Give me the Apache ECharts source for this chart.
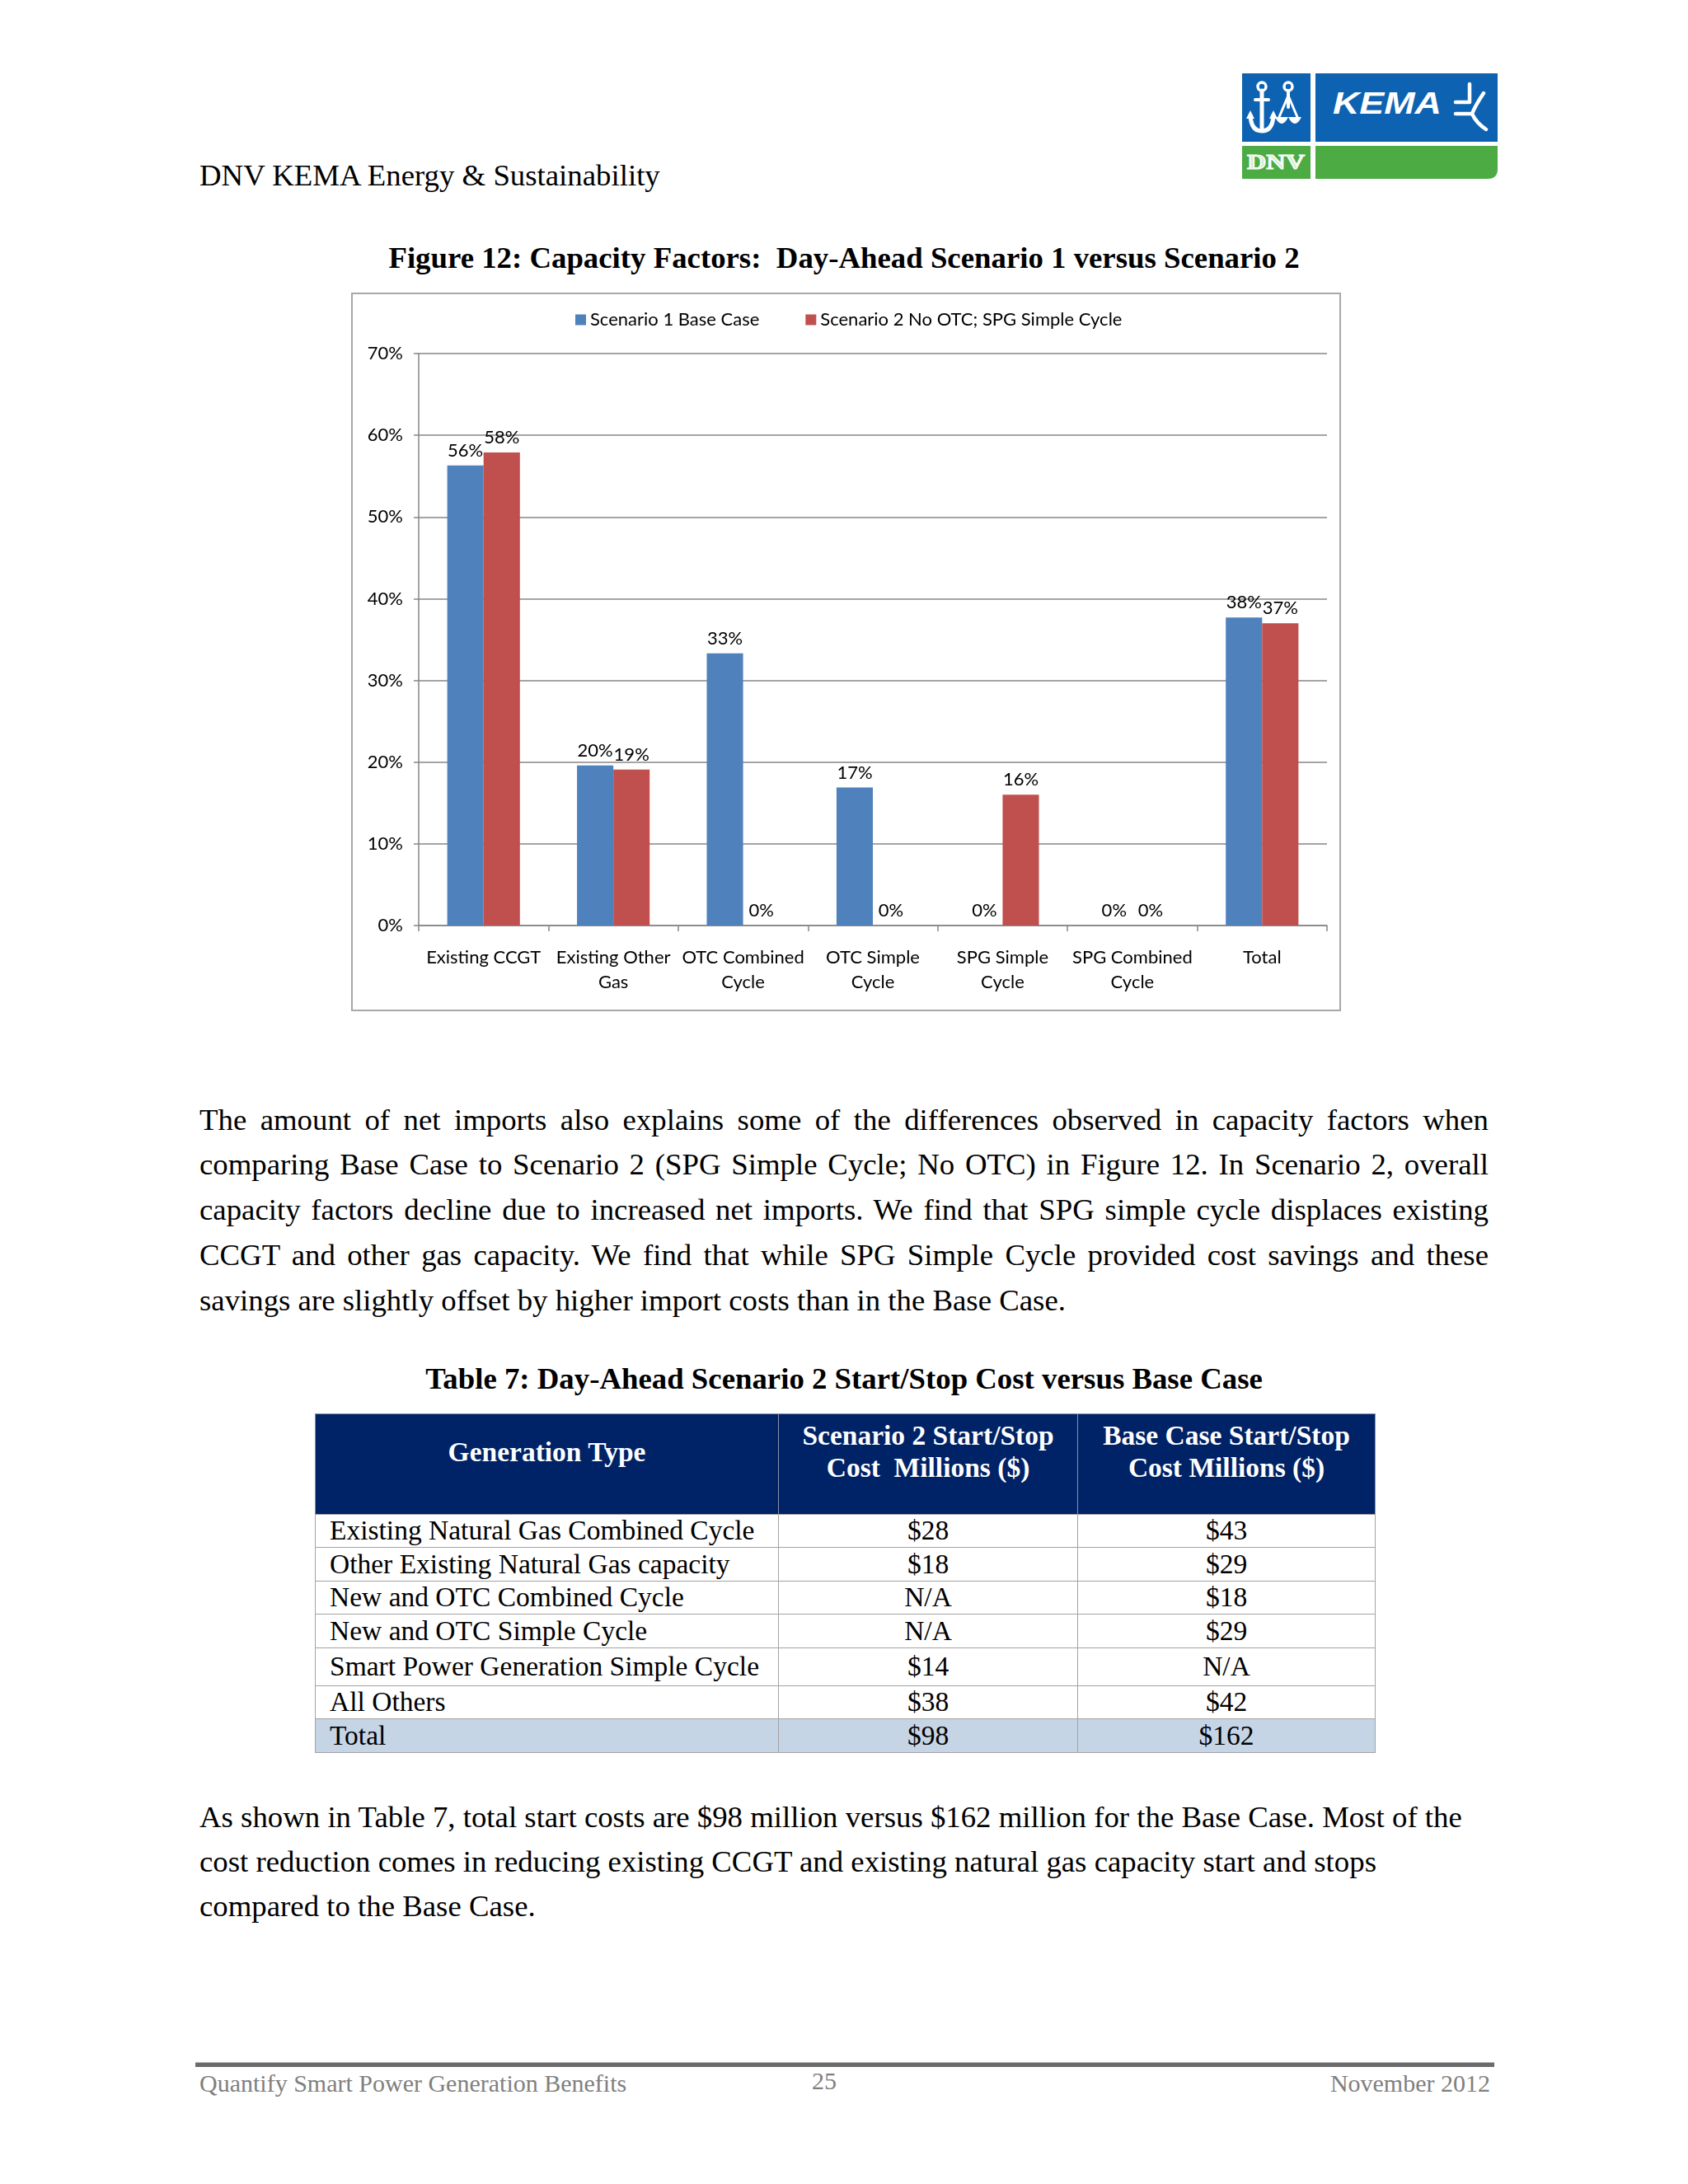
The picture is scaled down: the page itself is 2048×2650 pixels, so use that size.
<!DOCTYPE html>
<html>
<head>
<meta charset="utf-8">
<script src="https://cdn.jsdelivr.net/npm/echarts@6/dist/echarts.min.js"></script>
<style>
  html, body { margin:0; padding:0; background:#fff; }
  #page { position:relative; width:2048px; height:2650px; background:#fff; overflow:hidden; font-family:"Liberation Serif","Times New Roman",serif; color:#000; }
  .abs { position:absolute; white-space:pre; }
  .body11 { font-size:36.8px; line-height:44px; }
  .just { text-align:justify; text-align-last:justify; white-space:normal; }
  .cell { position:absolute; box-sizing:border-box; border:1px solid #a3a3a3; font-size:33.5px; line-height:38px; white-space:pre; }
</style>
</head>
<body>
<div id="page">
  <!-- logo -->
  <svg class="abs" style="left:1500px;top:80px" width="330" height="150" viewBox="0 0 330 150">
    <rect x="7" y="9" width="83" height="83" fill="#0d62b1"/>
    <rect x="96" y="9" width="221" height="83" fill="#0d62b1"/>
    <rect x="7" y="97" width="83" height="40" fill="#4cab43"/>
    <path d="M96 97 H317 V125 Q317 137 305 137 H96 Z" fill="#4cab43"/>
    <g stroke="#fff" fill="none" stroke-linecap="round" stroke-linejoin="round">
      <circle cx="31" cy="25" r="5" stroke-width="3.5"/>
      <line x1="31" y1="30" x2="31" y2="78" stroke-width="5"/>
      <line x1="23" y1="41" x2="39" y2="41" stroke-width="4"/>
      <path d="M17 60 Q18 79 31 79 Q44 79 45 60" stroke-width="5"/>
      <circle cx="63" cy="25" r="5" stroke-width="3.5"/>
      <line x1="63" y1="30" x2="63" y2="50" stroke-width="4"/>
      <path d="M63 36 L52 62 M63 36 L74 62" stroke-width="3"/>
      <path d="M283 22 V44 M266 44 H283 M266 58 H286 M300 33 Q290 48 286 58 Q291 69 303 77" stroke-width="4.5"/>
    </g>
    <g fill="#fff">
      <polygon points="12,64 17,54 22,64"/>
      <polygon points="40,64 45,54 50,64"/>
      <path d="M47 62 Q55 78 63 62 Z"/>
      <path d="M63 62 Q71 78 79 62 Z"/>
    </g>
    <text x="117" y="58" font-family="Liberation Sans" font-weight="bold" font-style="italic" font-size="36" fill="#fff" textLength="132" lengthAdjust="spacingAndGlyphs">KEMA</text>
    <text x="13" y="125" font-family="Liberation Serif" font-weight="bold" font-size="25" fill="#d8efd4" stroke="#fff" stroke-width="1.2" textLength="70" lengthAdjust="spacingAndGlyphs">DNV</text>
  </svg>

  <div class="abs body11" style="left:242px;top:191px;">DNV KEMA Energy &amp; Sustainability</div>
  <div class="abs body11" style="left:0;width:2048px;text-align:center;top:291px;font-weight:bold;">Figure 12: Capacity Factors:  Day-Ahead Scenario 1 versus Scenario 2</div>

  <div id="chart" class="abs" style="left:426px;top:355px;width:1201px;height:872px;"></div>
  <div class="abs" style="left:426px;top:355px;width:1201px;height:872px;box-sizing:border-box;border:2px solid #a8a8a8;pointer-events:none;"></div>

  <div id="para1"></div>

  <div class="abs body11" style="left:0;width:2048px;text-align:center;top:1651px;font-weight:bold;">Table 7: Day-Ahead Scenario 2 Start/Stop Cost versus Base Case</div>
  <div id="table"></div>

  <div id="para2"></div>

  <div class="abs" style="left:237px;top:2502px;width:1576px;height:6px;background:#6b6b6b;border-top:1px solid #bdbdbd;box-sizing:border-box;"></div>
  <div class="abs" style="left:242px;top:2510px;font-size:30px;line-height:36px;color:#7f7f7f;">Quantify Smart Power Generation Benefits</div>
  <div class="abs" style="left:950px;width:100px;text-align:center;top:2507px;font-size:30px;line-height:36px;color:#7f7f7f;">25</div>
  <div class="abs" style="left:1500px;width:308px;text-align:right;top:2510px;font-size:30px;line-height:36px;color:#7f7f7f;">November 2012</div>
</div>

<script>
// ---- chart data ----
const categories = ['Existing CCGT', 'Existing Other\nGas', 'OTC Combined\nCycle', 'OTC Simple\nCycle', 'SPG Simple\nCycle', 'SPG Combined\nCycle', 'Total'];
const seriesNames = ['Scenario 1 Base Case', 'Scenario 2 No OTC; SPG Simple Cycle'];
const scenario1 = [0.563, 0.196, 0.333, 0.169, 0, 0, 0.377];
const scenario2 = [0.579, 0.191, 0, 0, 0.160, 0, 0.370];
const yMin = 0, yMax = 0.7, yStep = 0.1;

// ---- page text ----
const para1Lines = [
  'The amount of net imports also explains some of the differences observed in capacity factors when',
  'comparing Base Case to Scenario 2 (SPG Simple Cycle; No OTC) in Figure 12. In Scenario 2, overall',
  'capacity factors decline due to increased net imports. We find that SPG simple cycle displaces existing',
  'CCGT and other gas capacity. We find that while SPG Simple Cycle provided cost savings and these',
  'savings are slightly offset by higher import costs than in the Base Case.'
];
const para1Y = [1359, 1413, 1468, 1523, 1578];
const para2Lines = [
  'As shown in Table 7, total start costs are $98 million versus $162 million for the Base Case. Most of the',
  'cost reduction comes in reducing existing CCGT and existing natural gas capacity start and stops',
  'compared to the Base Case.'
];
const para2Y = [2205, 2259, 2313];

// ---- table data ----
const tableHeader = ['Generation Type', 'Scenario 2 Start/Stop\nCost  Millions ($)', 'Base Case Start/Stop\nCost Millions ($)'];
const tableTypes = ['Existing Natural Gas Combined Cycle', 'Other Existing Natural Gas capacity', 'New and OTC Combined Cycle', 'New and OTC Simple Cycle', 'Smart Power Generation Simple Cycle', 'All Others', 'Total'];
const tableScen2 = ['$28', '$18', 'N/A', 'N/A', '$14', '$38', '$98'];
const tableBase = ['$43', '$29', '$18', '$29', 'N/A', '$42', '$162'];

const page = document.getElementById('page');
function addLines(lines, ys, justifyAllButLast) {
  lines.forEach((t, i) => {
    const d = document.createElement('div');
    d.className = 'abs body11';
    d.style.left = '242px';
    d.style.top = (ys[i] - 22) + 'px';
    if (justifyAllButLast && i < lines.length - 1) {
      d.classList.add('just');
      d.style.width = '1564px';
    }
    d.textContent = t;
    page.appendChild(d);
  });
}
addLines(para1Lines, para1Y, true);
addLines(para2Lines, para2Y, false);

// table
const colX = [382, 944, 1307, 1668];
const rowY = [1715, 1837, 1877, 1918, 1958, 1999, 2045, 2085, 2126];
const tbl = document.getElementById('table');
function cell(c, r, text, opts) {
  const d = document.createElement('div');
  d.className = 'cell';
  d.style.left = colX[c] + 'px';
  d.style.top = rowY[r] + 'px';
  d.style.width = (colX[c + 1] - colX[c] + 1) + 'px';
  d.style.height = (rowY[r + 1] - rowY[r] + 1) + 'px';
  Object.assign(d.style, opts || {});
  d.textContent = text;
  tbl.appendChild(d);
}
tableHeader.forEach((h, c) => {
  cell(c, 0, h, {
    background: '#002266', color: '#fff', fontWeight: 'bold', textAlign: 'center', lineHeight: '39px',
    paddingTop: (c === 0 ? 26 : 6) + 'px', borderColor: '#8a93a8'
  });
});
tableTypes.forEach((t, i) => {
  const r = i + 1;
  const h = rowY[r + 1] - rowY[r];
  const bg = (i === tableTypes.length - 1) ? '#c5d5e5' : '#fff';
  const base = { background: bg, lineHeight: (h - 2) + 'px' };
  cell(0, r, t, Object.assign({ paddingLeft: '17px' }, base));
  cell(1, r, tableScen2[i], Object.assign({ textAlign: 'center' }, base));
  cell(2, r, tableBase[i], Object.assign({ textAlign: 'center' }, base));
});

// ---- chart ----
const pct = v => Math.round(v * 100) + '%';
const chart = echarts.init(document.getElementById('chart'), null, { renderer: 'canvas' });
const labelFont = { fontFamily: 'Lato', fontSize: 22, color: '#000' };
chart.setOption({
  animation: false,
  backgroundColor: '#fff',
  legend: {
    left: 267, top: 17,
    itemWidth: 13, itemHeight: 13, itemGap: 56,
    icon: 'rect',
    textStyle: labelFont,
    data: seriesNames
  },
  grid: { left: 82, right: 17, top: 74, bottom: 104, containLabel: false },
  xAxis: {
    type: 'category',
    data: categories,
    axisLine: { lineStyle: { color: '#868686', width: 1.5 } },
    axisTick: { show: true, length: 7, alignWithLabel: false, lineStyle: { color: '#868686', width: 1.5 } },
    axisLabel: Object.assign({ interval: 0, margin: 24, lineHeight: 30 }, labelFont)
  },
  yAxis: {
    type: 'value',
    min: yMin, max: yMax, interval: yStep,
    axisLine: { show: true, lineStyle: { color: '#868686', width: 1.5 } },
    axisTick: { show: true, length: 6, lineStyle: { color: '#868686', width: 1.5 } },
    splitLine: { lineStyle: { color: '#868686', width: 1.5 } },
    axisLabel: Object.assign({ margin: 19, formatter: pct }, labelFont)
  },
  series: [
    {
      name: seriesNames[0], type: 'bar', data: scenario1,
      barGap: '0%', barCategoryGap: '44%',
      itemStyle: { color: '#4f81bd' },
      label: Object.assign({ show: true, position: 'top', distance: 7, formatter: p => pct(p.value) }, labelFont)
    },
    {
      name: seriesNames[1], type: 'bar', data: scenario2,
      barGap: '0%', barCategoryGap: '44%',
      itemStyle: { color: '#c0504d' },
      label: Object.assign({ show: true, position: 'top', distance: 7, formatter: p => pct(p.value) }, labelFont)
    }
  ]
});
</script>
</body>
</html>
